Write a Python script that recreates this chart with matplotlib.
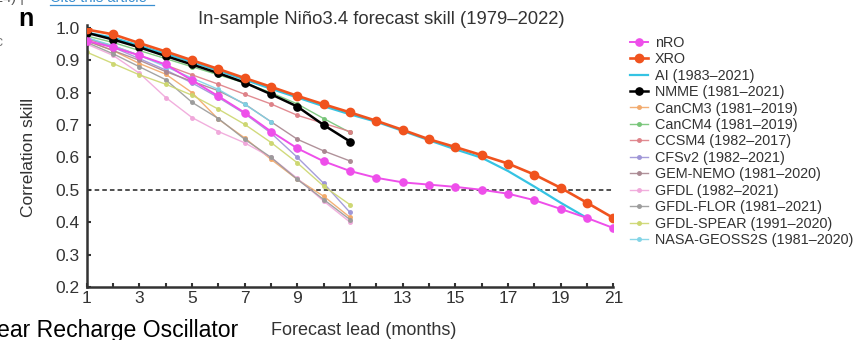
import matplotlib
matplotlib.use("Agg")
import matplotlib.pyplot as plt
from matplotlib.ticker import FixedLocator
from matplotlib.lines import Line2D

plt.rcParams['font.family'] = ['Liberation Sans', 'DejaVu Sans']

leads_21 = list(range(1, 22))
leads_20 = list(range(1, 21))
leads_11 = list(range(1, 12))
leads_8 = list(range(1, 9))

xro = [0.995, 0.98, 0.953, 0.927, 0.90, 0.873, 0.845, 0.818, 0.79, 0.764, 0.739,
       0.713, 0.685, 0.656, 0.632, 0.607, 0.581, 0.547, 0.506, 0.46, 0.413]
nro = [0.96, 0.94, 0.915, 0.887, 0.838, 0.789, 0.738, 0.68, 0.628, 0.588, 0.558,
       0.537, 0.523, 0.516, 0.509, 0.50, 0.488, 0.468, 0.441, 0.413, 0.382]
ai = [0.985, 0.97, 0.945, 0.92, 0.895, 0.868, 0.84, 0.812, 0.785, 0.758, 0.733,
      0.71, 0.682, 0.653, 0.625, 0.599, 0.558, 0.51, 0.46, 0.413]
nmme = [0.985, 0.964, 0.94, 0.913, 0.887, 0.86, 0.831, 0.795, 0.757, 0.70, 0.649]
cancm3 = [0.96, 0.93, 0.89, 0.857, 0.80, 0.718, 0.66, 0.594, 0.532, 0.48, 0.415]
cancm4 = [0.975, 0.955, 0.93, 0.905, 0.88, 0.855, 0.83, 0.80, 0.765, 0.72, 0.677]
ccsm4 = [0.965, 0.945, 0.915, 0.885, 0.855, 0.826, 0.795, 0.765, 0.73, 0.705, 0.68]
cfsv2 = [0.97, 0.94, 0.905, 0.87, 0.83, 0.785, 0.735, 0.675, 0.60, 0.52, 0.43]
gem_nemo = [0.96, 0.93, 0.90, 0.865, 0.835, 0.806, 0.765, 0.71, 0.656, 0.62, 0.589]
gfdl = [0.95, 0.915, 0.86, 0.785, 0.723, 0.68, 0.645, 0.60, 0.535, 0.465, 0.40]
gfdl_flor = [0.955, 0.92, 0.88, 0.84, 0.77, 0.72, 0.656, 0.60, 0.532, 0.47, 0.408]
gfdl_spear = [0.925, 0.89, 0.855, 0.826, 0.792, 0.749, 0.702, 0.646, 0.583, 0.511, 0.454]
nasa = [0.97, 0.945, 0.915, 0.88, 0.845, 0.81, 0.764, 0.71]

fig = plt.figure(figsize=(8.59, 3.40), dpi=100)
ax = fig.add_axes([0.101, 0.156, 0.613, 0.762])

models = [
    ("CanCM3 (1981\u20132019)", cancm3, "#F2A868"),
    ("CanCM4 (1981\u20132019)", cancm4, "#74C476"),
    ("CCSM4 (1982\u20132017)", ccsm4, "#DE7F86"),
    ("CFSv2 (1982\u20132021)", cfsv2, "#9C93D6"),
    ("GEM-NEMO (1981\u20132020)", gem_nemo, "#A8868F"),
    ("GFDL (1982\u20132021)", gfdl, "#F0A6DA"),
    ("GFDL-FLOR (1981\u20132021)", gfdl_flor, "#9A9A9A"),
    ("GFDL-SPEAR (1991\u20132020)", gfdl_spear, "#CCD66E"),
]
model_handles = []
for name, vals, col in models:
    h, = ax.plot(leads_11[:len(vals)], vals, '-o', color=col, lw=1.0, ms=2.6,
                 alpha=0.9, label=name, zorder=2)
    model_handles.append(h)
h_nasa, = ax.plot(leads_8, nasa, '-o', color="#7FD3E6", lw=1.0, ms=2.6, alpha=0.9,
                  label="NASA-GEOSS2S (1981\u20132020)", zorder=2)

ax.axhline(0.5, color='#222222', lw=1.1, ls=(0, (3, 2)), zorder=1)

h_ai, = ax.plot(leads_20, ai, '-', color="#35C3E3", lw=1.6, label="AI (1983\u20132021)", zorder=3)
h_nmme, = ax.plot(leads_11, nmme, '-o', color="black", lw=1.8, ms=5.2, label="NMME (1981\u20132021)", zorder=4)
h_nro, = ax.plot(leads_21, nro, '-o', color="#EE4FEA", lw=1.4, ms=5.2, label="nRO", zorder=4)
h_xro, = ax.plot(leads_21, xro, '-o', color="#F0531E", lw=1.9, ms=6.0, label="XRO", zorder=5)

handles = [h_nro, h_xro, h_ai, h_nmme] + model_handles + [h_nasa]
leg = fig.legend(handles=handles, loc='upper left', bbox_to_anchor=(0.733, 0.895),
                 frameon=False, fontsize=10.4, handlelength=1.3, handletextpad=0.45,
                 labelspacing=0.17, borderaxespad=0, borderpad=0)
for t in leg.get_texts():
    t.set_color('#333333')

ax.set_xlim(1, 21)
ax.set_ylim(0.2, 1.0)
ax.xaxis.set_major_locator(FixedLocator(list(range(1, 22, 2))))
ax.xaxis.set_minor_locator(FixedLocator(list(range(2, 22, 2))))
ax.yaxis.set_major_locator(FixedLocator([0.2, 0.3, 0.4, 0.5, 0.6, 0.7, 0.8, 0.9, 1.0]))
ax.set_yticklabels([f"{v:.1f}" for v in ax.get_yticks()])
for s in ['top', 'right']:
    ax.spines[s].set_visible(False)
for s in ['left', 'bottom']:
    ax.spines[s].set_linewidth(1.8)
    ax.spines[s].set_color('#333333')
ax.spines['left'].set_bounds(0.2, 1.01)
ax.tick_params(axis='both', which='both', direction='in', length=3, width=1.5,
               color='#333333', labelsize=12.5, labelcolor='#333333')
ax.tick_params(axis='x', pad=3)
ax.tick_params(axis='y', pad=5)

ax.set_title("In-sample Ni\u00f1o3.4 forecast skill (1979\u20132022)", fontsize=13.3,
             color='#333333', pad=3, x=0.56)
ax.set_ylabel("Correlation skill", fontsize=12.5, color='#333333', labelpad=14)
ax.set_xlabel("Forecast lead (months)", fontsize=13, color='#333333', labelpad=12)
ax.xaxis.set_label_coords(0.525, -0.135)

# page fragments around the figure
fig.text(0.021, 0.925, "n", fontsize=18, fontweight='bold', color='black')
fig.text(-0.012, 0.865, "tic", fontsize=10, color='#777777')
fig.text(-0.004, 0.01, "ear Recharge Oscillator", fontsize=16.6, color='black')
fig.text(-0.006, 1.005, "24) | ", fontsize=10.5, color='#555555', va='center')
fig.text(0.058, 1.005, "Cite this article", fontsize=10.5, color='#3A8FD0', va='center')
fig.add_artist(Line2D([0.058, 0.179], [0.985, 0.985], transform=fig.transFigure,
                      color='#3A8FD0', lw=0.9))

fig.savefig("out.png", dpi=100)
